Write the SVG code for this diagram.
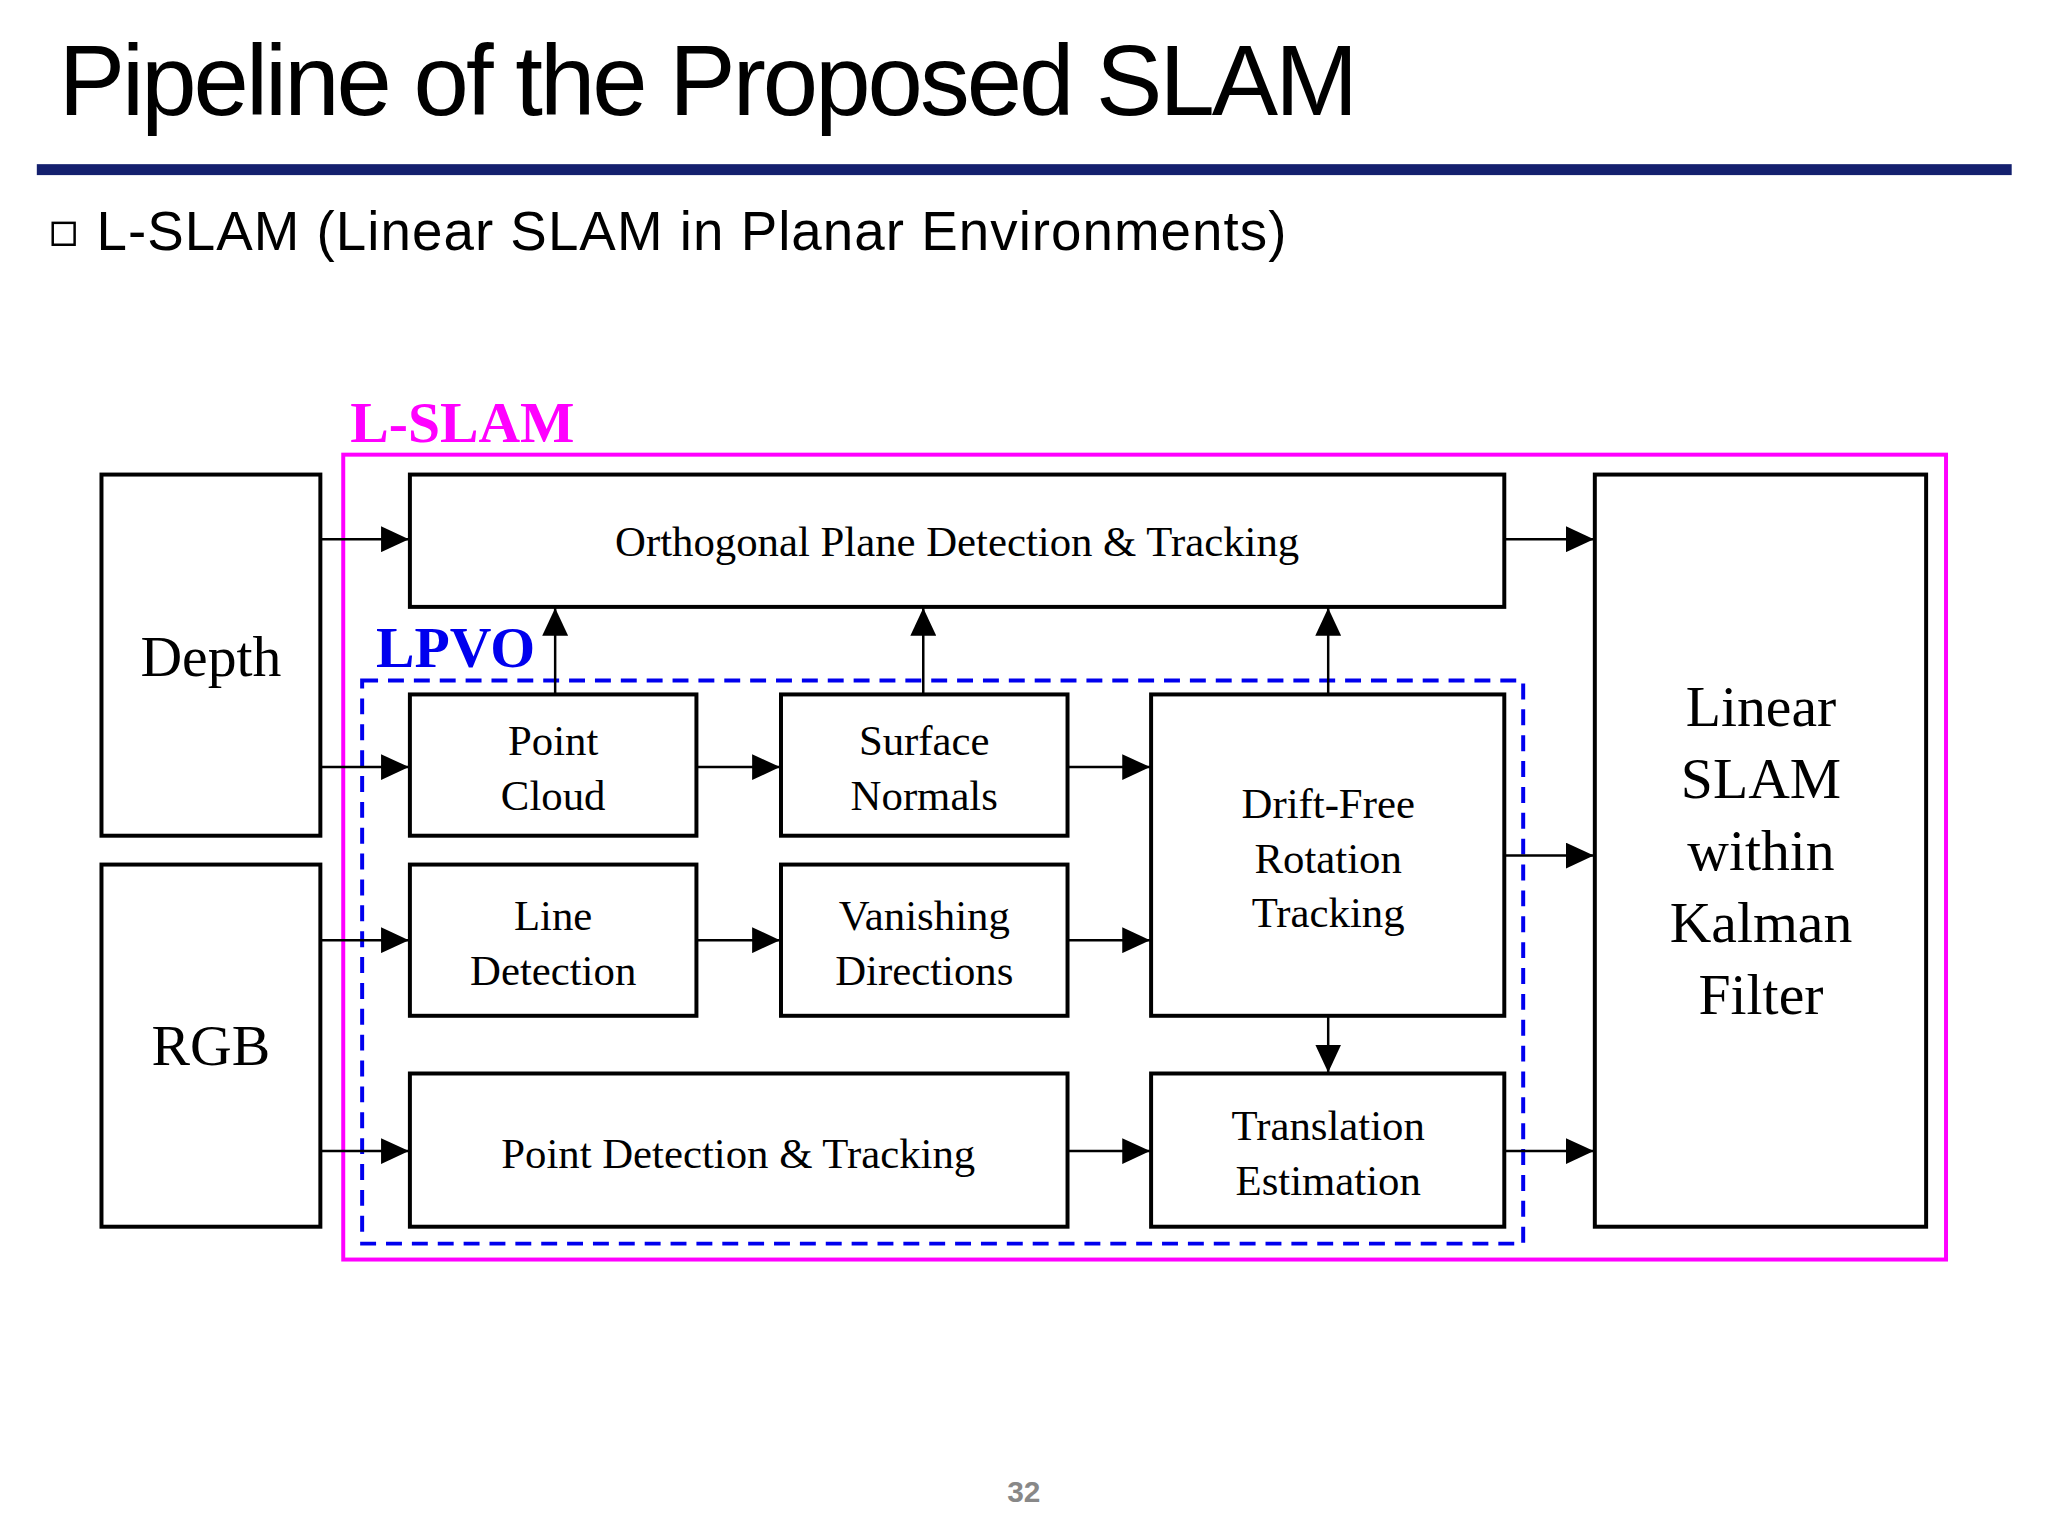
<svg xmlns="http://www.w3.org/2000/svg" width="2048" height="1536" viewBox="0 0 2048 1536">
<style>
.b{fill:none;stroke:#000;stroke-width:4}
.t{font-family:"Liberation Serif",serif;font-size:43px;text-anchor:middle;fill:#000}
.big{font-size:58px}
.c{stroke:#000;stroke-width:2.5;fill:none;marker-end:url(#a)}
</style>
<defs><marker id="a" markerUnits="userSpaceOnUse" markerWidth="30" markerHeight="26" refX="28" refY="13" orient="auto"><path d="M0,0L28,13L0,26Z" fill="#000"/></marker></defs>
<rect width="2048" height="1536" fill="#fff"/>
<g transform="scale(0.9949)">
<text x="59" y="116" font-family="Liberation Sans,Arial,sans-serif" font-size="100" textLength="1306">Pipeline of the Proposed SLAM</text>
<rect x="37" y="165" width="1985" height="11" fill="#14206e"/>
<rect x="53" y="224" width="22" height="22" fill="none" stroke="#000" stroke-width="2.5"/>
<text x="97" y="251" font-family="Liberation Sans,Arial,sans-serif" font-size="55" textLength="1196">L-SLAM (Linear SLAM in Planar Environments)</text>
<g id="lslam"><rect x="345" y="457" width="1611" height="809" fill="none" stroke="#ff00ff" stroke-width="4"/><text x="352" y="444" font-family="Liberation Serif,serif" font-weight="bold" font-size="58" fill="#ff00ff">L-SLAM</text></g>
<g id="lpvo"><rect x="364" y="684" width="1167" height="566" fill="none" stroke="#0000ee" stroke-width="4" stroke-dasharray="16,10"/><text x="378" y="670" font-family="Liberation Serif,serif" font-weight="bold" font-size="58" fill="#0000ee">LPVO</text></g>
<g id="depth"><rect class="b" x="102" y="477" width="220" height="363"/><text class="t big" x="212" y="679">Depth</text></g>
<g id="rgb"><rect class="b" x="102" y="869" width="220" height="364"/><text class="t big" x="212" y="1070">RGB</text></g>
<g id="ortho"><rect class="b" x="412" y="477" width="1100" height="133"/><text class="t" x="962" y="559">Orthogonal Plane Detection &amp; Tracking</text></g>
<g id="pc"><rect class="b" x="412" y="698" width="288" height="142"/><text class="t" x="556" y="759">Point</text><text class="t" x="556" y="814">Cloud</text></g>
<g id="sn"><rect class="b" x="785" y="698" width="288" height="142"/><text class="t" x="929" y="759">Surface</text><text class="t" x="929" y="814">Normals</text></g>
<g id="df"><rect class="b" x="1157" y="698" width="355" height="323"/><text class="t" x="1335" y="822">Drift-Free</text><text class="t" x="1335" y="877">Rotation</text><text class="t" x="1335" y="932">Tracking</text></g>
<g id="ld"><rect class="b" x="412" y="869" width="288" height="152"/><text class="t" x="556" y="935">Line</text><text class="t" x="556" y="990">Detection</text></g>
<g id="vd"><rect class="b" x="785" y="869" width="288" height="152"/><text class="t" x="929" y="935">Vanishing</text><text class="t" x="929" y="990">Directions</text></g>
<g id="pd"><rect class="b" x="412" y="1079" width="661" height="154"/><text class="t" x="742" y="1174">Point Detection &amp; Tracking</text></g>
<g id="te"><rect class="b" x="1157" y="1079" width="355" height="154"/><text class="t" x="1335" y="1146">Translation</text><text class="t" x="1335" y="1201">Estimation</text></g>
<g id="kf"><rect class="b" x="1603" y="477" width="333" height="756"/><text class="t big" x="1770" y="730">Linear</text><text class="t big" x="1770" y="802">SLAM</text><text class="t big" x="1770" y="874">within</text><text class="t big" x="1770" y="947">Kalman</text><text class="t big" x="1770" y="1019">Filter</text></g>
<g id="connectors">
<line class="c" x1="322" y1="542" x2="411" y2="542"/>
<line class="c" x1="322" y1="771" x2="411" y2="771"/>
<line class="c" x1="322" y1="945" x2="411" y2="945"/>
<line class="c" x1="322" y1="1157" x2="411" y2="1157"/>
<line class="c" x1="700" y1="771" x2="784" y2="771"/>
<line class="c" x1="1073" y1="771" x2="1156" y2="771"/>
<line class="c" x1="700" y1="945" x2="784" y2="945"/>
<line class="c" x1="1073" y1="945" x2="1156" y2="945"/>
<line class="c" x1="1073" y1="1157" x2="1156" y2="1157"/>
<line class="c" x1="558" y1="698" x2="558" y2="611"/>
<line class="c" x1="928" y1="698" x2="928" y2="611"/>
<line class="c" x1="1335" y1="698" x2="1335" y2="611"/>
<line class="c" x1="1335" y1="1021" x2="1335" y2="1078"/>
<line class="c" x1="1512" y1="542" x2="1602" y2="542"/>
<line class="c" x1="1512" y1="860" x2="1602" y2="860"/>
<line class="c" x1="1512" y1="1157" x2="1602" y2="1157"/>
</g>
<text x="1029" y="1510" font-family="Liberation Sans,Arial,sans-serif" font-weight="bold" font-size="30" fill="#888" text-anchor="middle">32</text>
</g>
</svg>
